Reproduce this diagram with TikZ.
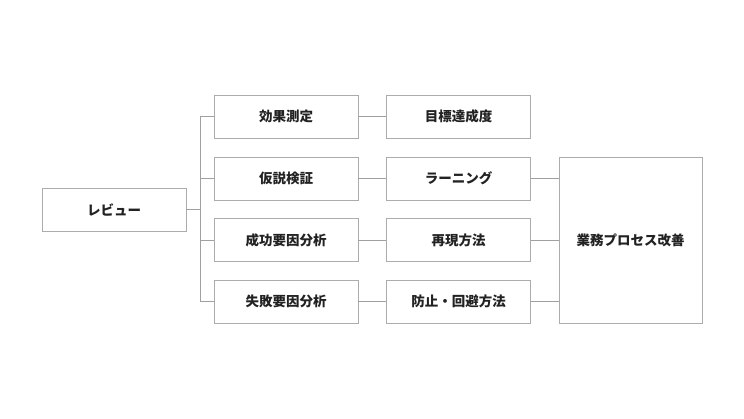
\documentclass[tikz,border=0pt]{standalone}
\usepackage{fontspec}
\newfontfamily\jpfont{Noto Sans CJK JP}
\usepackage{tikz}
\usetikzlibrary{positioning,calc}
\definecolor{boxgray}{RGB}{172,172,172}
\definecolor{linegray}{RGB}{160,160,160}
\definecolor{textdark}{RGB}{34,34,34}

\begin{document}
\begin{tikzpicture}[
  x=1pt, y=-1pt,
  every node/.style={font=\jpfont\bfseries\fontsize{13.5}{16}\selectfont, text=textdark},
  item/.style={draw=boxgray, line width=0.9pt, fill=white,
               minimum width=144pt, minimum height=43pt,
               inner sep=0pt, align=center},
  tall/.style={item, minimum width=143pt, minimum height=166pt},
  link/.style={draw=linegray, line width=0.9pt},
]
\useasboundingbox (0,0) rectangle (744,419);

%% Start box
\node[item] (rev) at (114, 209.5) {レビュー};

%% Review steps
\node[item] (k1) at (286, 116.5) {効果測定};
\node[item] (k2) at (286, 178.5) {仮説検証};
\node[item] (k3) at (286, 240)   {成功要因分析};
\node[item] (k4) at (286, 301.5) {失敗要因分析};

%% Outputs
\node[item] (m1) at (458.5, 116.5) {目標達成度};
\node[item] (m2) at (458.5, 178.5) {ラーニング};
\node[item] (m3) at (458.5, 240)   {再現方法};
\node[item] (m4) at (458.5, 301.5) {防止・回避方法};

%% Goal
\node[tall] (kaizen) at (630.5, 240) {業務プロセス改善};

%% Branch from review
\coordinate (br) at (200, 209.5);
\draw[link] (rev.east) -- (br);
\draw[link] (br |- k1.west) -- (br |- k4.west);
\foreach \k in {k1, k2, k3, k4} {
  \draw[link] (br |- \k.west) -- (\k.west);
}

%% Steps to outputs
\foreach \k/\m in {k1/m1, k2/m2, k3/m3, k4/m4} {
  \draw[link] (\k.east) -- (\m.west);
}

%% Outputs to goal
\foreach \m in {m2, m3, m4} {
  \draw[link] (\m.east) -- (\m.east -| kaizen.west);
}

\end{tikzpicture}
\end{document}
